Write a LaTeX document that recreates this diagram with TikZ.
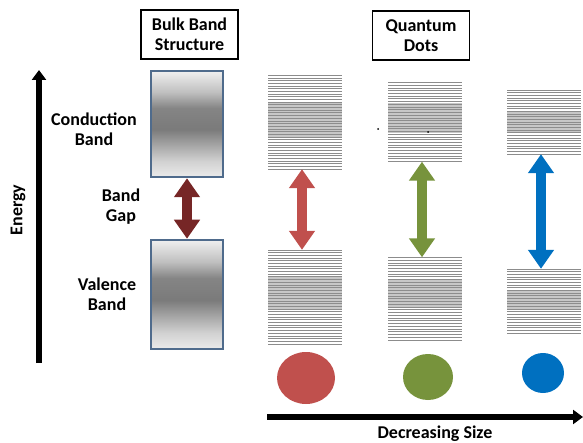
\documentclass[tikz,border=0pt]{standalone}
\usepackage{fontspec}
\setmainfont{Carlito}
\usetikzlibrary{arrows.meta}
\definecolor{bandedge}{RGB}{79,107,140}
\definecolor{gapred}{RGB}{118,38,38}
\definecolor{qdred}{RGB}{192,80,77}
\definecolor{qdgreen}{RGB}{119,147,60}
\definecolor{qdblue}{RGB}{0,112,192}
\pgfdeclareverticalshading{bandshade}{100bp}{color(0bp)=(black!8); color(25bp)=(black!8); color(32.5bp)=(black!18); color(40bp)=(black!35); color(47.5bp)=(black!52); color(57.5bp)=(black!48); color(65bp)=(black!25); color(75bp)=(black!6); color(100bp)=(black!6)}
\tikzset{
  lbl/.style={font=\fontsize{18}{20}\selectfont\bfseries, align=center, inner sep=0pt},
  titlebox/.style={draw=black, line width=1.2pt, font=\fontsize{18}{20}\selectfont\bfseries, align=center, inner sep=0pt, minimum width=97pt, minimum height=49pt},
  bandbox/.style={draw=bandedge, line width=2.5pt, shading=bandshade, minimum width=72pt, inner sep=0pt},
  stackbox/.style={inner sep=0pt, draw=none},
  gaparrow/.style={line width=10pt, {Triangle[width=25pt,length=19pt]}-{Triangle[width=25pt,length=19pt]}},
  axisarrow/.style={line width=5.5pt, -{Triangle[width=14pt,length=10pt]}},
  stackline/.style={draw=black!45, line width=0.8pt},
  stackgray/.style={fill=black!22},
  dot/.style={fill=black, circle, inner sep=0pt, minimum size=2pt}
}
% #1 name, #2 x1, #3 ytop, #4 x2, #5 ybot, #6 gray top, #7 gray bottom, #8 number of gaps
\newcommand{\qdstack}[8]{%
  \node[stackbox, minimum width={#4-#2}, minimum height={#5-#3}] (#1) at ({(#2+#4)/2},{(#3+#5)/2}) {};
  \fill[stackgray] (#2,#6) rectangle (#4,#7);
  \foreach \i in {0,...,#8} {\draw[stackline] (#2,{#3+\i*(#5-#3)/#8}) -- (#4,{#3+\i*(#5-#3)/#8});}
}
\begin{document}
\begin{tikzpicture}[x=1pt,y=-1pt]
\useasboundingbox (0,0) rectangle (583,443);
% title boxes
\node[titlebox] (bulk) at (189.5,34.5) {Bulk Band\\Structure};
\node[titlebox] (qd) at (421,35.5) {Quantum\\Dots};
% energy axis
\coordinate (eb) at (39,363);
\coordinate (et) at (39,70);
\draw[axisarrow] (eb) -- (et);
\node[lbl, rotate=90] (energy) at (18,210) {Energy};
% bulk bands
\node[bandbox, minimum height=106pt] (cb) at (187,124) {};
\node[bandbox, minimum height=109pt] (vb) at (187,294.5) {};
\draw[gaparrow, color=gapred] (cb.south) -- (vb.north);
\node[lbl] (cbl) at (94,129) {Conduction\\Band};
\node[lbl] (bgl) at (121,207) {Band\\Gap};
\node[lbl] (vbl) at (107,294) {Valence\\Band};
% quantum dot stacks
\qdstack{s1u}{268}{75.5}{342}{169}{102}{138}{35}
\qdstack{s1l}{268}{250}{342}{344}{276}{310}{35}
\qdstack{s2u}{388}{82.5}{462}{161.5}{103}{133}{29}
\qdstack{s2l}{388}{257.5}{462}{340}{280}{307}{30}
\qdstack{s3u}{507}{90}{581}{154}{112.5}{132.5}{24}
\qdstack{s3l}{507}{269}{581}{333}{291}{310}{24}
\draw[gaparrow, color=qdred] ([xshift=-3pt]s1u.south) -- ([xshift=-3pt]s1l.north);
\draw[gaparrow, color=qdgreen] ([xshift=-3pt]s2u.south) -- ([xshift=-3pt]s2l.north);
\draw[gaparrow, color=qdblue] ([xshift=-3pt]s3u.south) -- ([xshift=-3pt]s3l.north);
\node[dot] (d1) at (378,129) {};
\node[dot] (d2) at (428,132) {};
% dots
\fill[qdred] (306,378) ellipse [x radius=29, y radius=26];
\fill[qdgreen] (428,377) ellipse [x radius=25, y radius=23];
\fill[qdblue] (543,373) ellipse [x radius=21, y radius=20];
% size axis
\coordinate (sa) at (267,417);
\coordinate (sb) at (583,417);
\draw[axisarrow] (sa) -- (sb);
\node[lbl] (size) at (435,434) {Decreasing Size};
\end{tikzpicture}
\end{document}
